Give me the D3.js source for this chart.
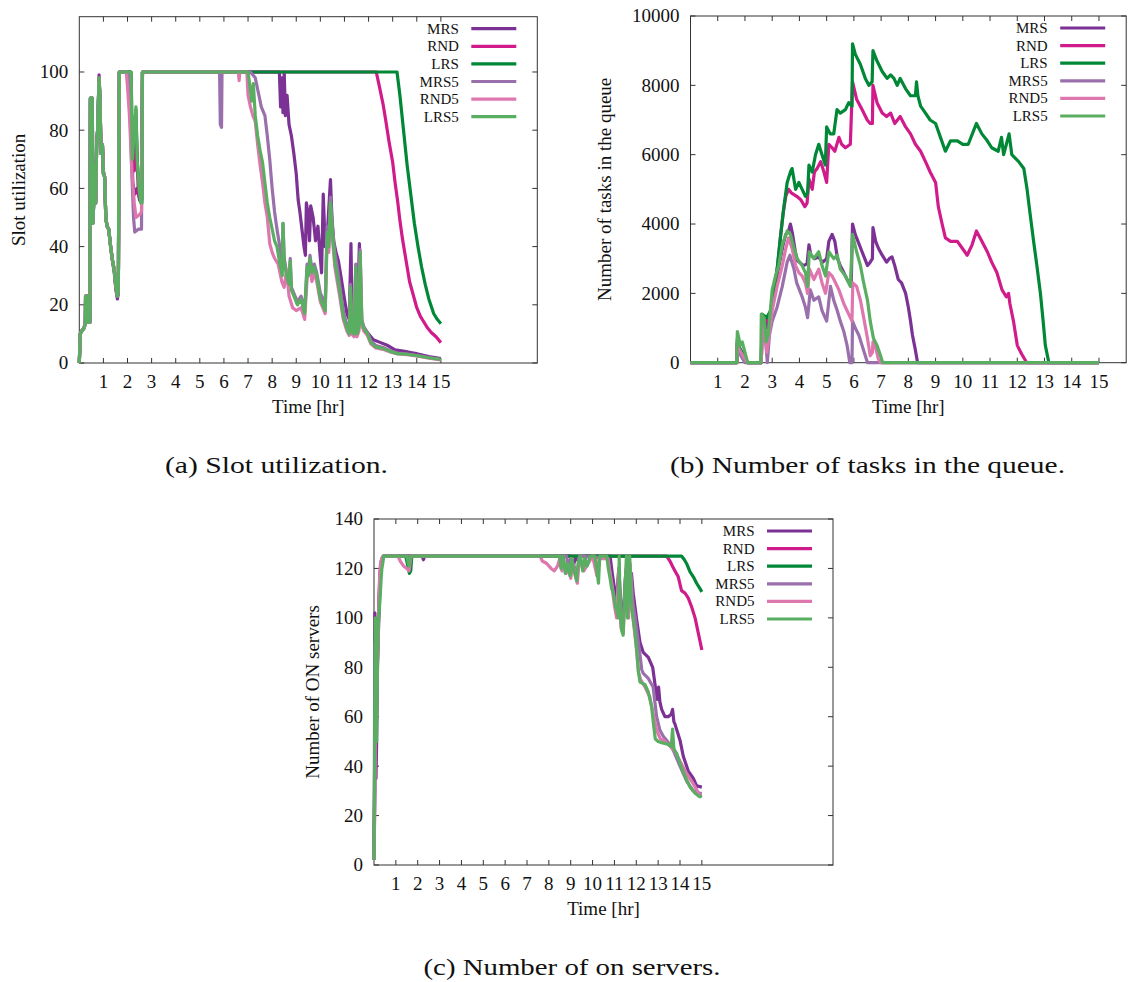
<!DOCTYPE html>
<html><head><meta charset="utf-8">
<script src="https://cdn.jsdelivr.net/npm/d3@7"></script>
<style>body{margin:0;background:#fff}</style>
</head><body>
<svg id="chart" width="1128" height="982"></svg>
<script>
// ---------- names, colours, ticks ----------
const seriesNames = ["MRS", "RND", "LRS", "MRS5", "RND5", "LRS5"];
const seriesColors = ["#7b3294", "#d01c8b", "#008837", "#9970ab", "#de77ae", "#5aae61"];
const xTickHours = [1,2,3,4,5,6,7,8,9,10,11,12,13,14,15];
const yTicksUtil = [0,20,40,60,80,100];
const yTicksQueue = [0,2000,4000,6000,8000,10000];
const yTicksServers = [0,20,40,60,80,100,120,140];

// ---------- (a) slot utilization [hour, %] ----------
const utilMRS = [[0,0],[0.04,10],[0.1,11],[0.2,12],[0.25,14],[0.26,23],[0.34,23],[0.36,14],[0.44,14],[0.46,90],[0.54,90],[0.56,49],[0.6,56],[0.64,69],[0.68,56],[0.72,76],[0.76,80],[0.82,99],[0.86,90],[0.9,73],[0.96,75],[1.0,66],[1.05,64],[1.1,50],[1.15,47],[1.22,46],[1.3,40],[1.38,35],[1.45,31],[1.52,25],[1.58,22],[1.62,24],[1.66,100],[2.1,100],[2.16,80],[2.22,62],[2.3,58],[2.4,60],[2.5,56],[2.58,55],[2.62,100],[8.3,100],[8.35,88],[8.4,98],[8.45,86],[8.5,100],[8.55,85],[8.62,92],[8.7,82],[8.8,78],[8.9,72],[9.0,65],[9.08,56],[9.15,52],[9.25,45],[9.32,40],[9.38,37],[9.42,55],[9.48,52],[9.55,42],[9.6,54],[9.7,50],[9.8,42],[9.9,47],[9.98,38],[10.05,31],[10.12,58],[10.2,40],[10.3,46],[10.42,63],[10.48,50],[10.55,42],[10.65,38],[10.75,35],[10.85,30],[11.0,22],[11.1,17],[11.2,15],[11.27,41],[11.32,15],[11.45,18],[11.55,20],[11.62,41],[11.68,15],[11.8,12],[12.0,10],[12.2,8],[12.5,7],[12.8,6],[13.1,4.5],[13.5,4],[13.8,3.5],[14.0,3.2],[14.5,2.2],[15,1.5]];
const utilRND = [[0,0],[0.04,10],[0.1,11],[0.2,12],[0.25,14],[0.26,23],[0.34,23],[0.36,14],[0.44,14],[0.46,91],[0.54,91],[0.56,48],[0.6,55],[0.64,68],[0.68,55],[0.72,75],[0.76,80],[0.82,98],[0.86,90],[0.9,72],[0.96,75],[1.0,65],[1.05,64],[1.1,50],[1.15,47],[1.22,46],[1.3,40],[1.38,35],[1.45,32],[1.52,26],[1.58,23],[1.62,25],[1.66,100],[2.12,100],[2.2,72],[2.28,66],[2.36,80],[2.45,58],[2.58,56],[2.62,100],[12.32,100],[12.45,95],[12.6,89],[12.7,84],[12.85,76],[13.0,69],[13.1,62],[13.2,56],[13.3,49],[13.4,43],[13.5,38],[13.6,33],[13.7,28],[13.8,25],[13.9,22],[14.0,19],[14.15,16],[14.3,14],[14.45,12],[14.6,10.5],[14.8,9],[15,7]];
const utilLRS = [[0,0],[0.04,10],[0.1,11],[0.2,12],[0.25,14],[0.26,23],[0.34,23],[0.36,14],[0.44,14],[0.46,91],[0.54,91],[0.56,48],[0.6,55],[0.64,68],[0.68,55],[0.72,75],[0.76,80],[0.82,98],[0.86,90],[0.9,72],[0.96,75],[1.0,65],[1.05,64],[1.1,50],[1.15,47],[1.22,46],[1.3,40],[1.38,35],[1.45,32],[1.52,26],[1.58,23],[1.62,25],[1.66,100],[2.15,100],[2.2,72],[2.28,80],[2.35,87],[2.4,70],[2.48,60],[2.55,56],[2.6,56],[2.62,100],[13.18,100],[13.3,92],[13.45,80],[13.6,68],[13.75,58],[13.9,48],[14.05,40],[14.2,33],[14.35,27],[14.5,22],[14.7,17],[14.85,15],[15,13.5]];
const utilMRS5 = [[0,0],[0.04,10],[0.1,11],[0.2,12],[0.25,14],[0.26,23],[0.34,23],[0.36,14],[0.44,14],[0.46,91],[0.54,91],[0.56,48],[0.6,55],[0.64,68],[0.68,55],[0.72,75],[0.76,80],[0.82,98],[0.86,90],[0.9,72],[0.96,75],[1.0,65],[1.05,64],[1.1,50],[1.15,47],[1.22,46],[1.3,40],[1.38,35],[1.45,32],[1.52,26],[1.58,23],[1.62,25],[1.66,100],[2.05,100],[2.1,88],[2.18,65],[2.25,50],[2.3,45],[2.45,46],[2.58,46],[2.62,100],[5.82,100],[5.85,82],[5.9,81],[5.92,100],[7.1,100],[7.3,98],[7.45,92],[7.55,88],[7.7,85],[7.8,78],[7.9,70],[8.0,60],[8.1,52],[8.2,46],[8.3,41],[8.42,34],[8.45,48],[8.5,36],[8.6,31],[8.7,28],[8.75,36],[8.8,26],[8.95,23],[9.05,21],[9.2,23],[9.35,18],[9.45,34],[9.5,31],[9.57,37],[9.65,32],[9.75,34],[9.85,31],[10.0,24],[10.1,22],[10.2,20],[10.28,47],[10.35,42],[10.42,57],[10.5,47],[10.6,38],[10.7,33],[10.8,27],[10.95,18],[11.1,13],[11.2,11],[11.25,27],[11.3,12],[11.4,11],[11.47,34],[11.52,11],[11.6,13],[11.65,39],[11.72,15],[11.8,12.5],[11.95,10.5],[12.1,7.5],[12.3,6],[12.6,5.3],[12.9,4.2],[13.2,3.4],[13.6,3.1],[14.0,2.6],[14.5,1.9],[15,1.3]];
const utilRND5 = [[0,0],[0.04,10],[0.1,11],[0.2,12],[0.25,14],[0.26,23],[0.34,23],[0.36,14],[0.44,14],[0.46,91],[0.54,91],[0.56,48],[0.6,55],[0.64,68],[0.68,55],[0.72,75],[0.76,80],[0.82,98],[0.86,90],[0.9,72],[0.96,75],[1.0,65],[1.05,64],[1.1,50],[1.15,47],[1.22,46],[1.3,40],[1.38,35],[1.45,32],[1.52,26],[1.58,23],[1.62,25],[1.66,100],[1.95,100],[2.0,95],[2.08,85],[2.18,66],[2.28,55],[2.35,50],[2.5,51],[2.58,52],[2.62,100],[6.6,100],[6.63,97],[6.66,100],[6.95,100],[7.0,92],[7.1,88],[7.2,85],[7.3,83],[7.4,75],[7.5,68],[7.6,62],[7.7,55],[7.8,50],[7.9,41],[8.0,38],[8.1,36],[8.25,34],[8.4,28],[8.5,26],[8.6,32],[8.7,23],[8.85,19],[9.0,18],[9.2,19],[9.35,15],[9.45,29],[9.57,33],[9.65,28],[9.75,31],[9.85,28],[10.0,21],[10.1,19],[10.2,17],[10.28,42],[10.35,38],[10.42,52],[10.5,43],[10.6,33],[10.7,28],[10.8,23],[10.95,15],[11.1,11],[11.2,9.5],[11.25,24],[11.3,10],[11.4,9],[11.47,31],[11.52,9],[11.6,11],[11.65,36],[11.72,13],[11.8,11],[11.95,9.5],[12.1,6.5],[12.3,5.2],[12.6,4.7],[12.9,3.8],[13.2,3.1],[13.6,2.9],[14.0,2.4],[14.5,1.7],[15,1.1]];
const utilLRS5 = [[0,0],[0.04,10],[0.1,11],[0.2,12],[0.25,14],[0.26,23],[0.34,23],[0.36,14],[0.44,14],[0.46,91],[0.54,91],[0.56,48],[0.6,55],[0.64,68],[0.68,55],[0.72,75],[0.76,80],[0.82,98],[0.86,90],[0.9,72],[0.96,75],[1.0,65],[1.05,64],[1.1,50],[1.15,47],[1.22,46],[1.3,40],[1.38,35],[1.45,32],[1.52,26],[1.58,23],[1.62,25],[1.66,100],[2.15,100],[2.2,70],[2.28,80],[2.35,88],[2.4,70],[2.48,60],[2.55,55],[2.6,55],[2.62,100],[7.0,100],[7.08,95],[7.15,90],[7.22,96],[7.3,85],[7.4,78],[7.5,73],[7.6,69],[7.7,62],[7.8,55],[7.9,50],[8.0,46],[8.1,42],[8.2,40],[8.3,35],[8.42,30],[8.45,48],[8.5,35],[8.6,30],[8.7,27],[8.75,35],[8.8,25],[8.95,22],[9.05,20],[9.2,22],[9.35,17],[9.45,33],[9.5,30],[9.57,36],[9.65,31],[9.75,33],[9.85,30],[10.0,22],[10.1,20],[10.2,18],[10.28,45],[10.35,40],[10.42,55],[10.5,45],[10.6,35],[10.7,30],[10.8,25],[10.95,16],[11.1,12],[11.2,10],[11.25,26],[11.3,11],[11.4,10],[11.47,33],[11.52,10],[11.6,12],[11.65,38],[11.72,14],[11.8,12],[11.95,10],[12.1,7],[12.3,5.5],[12.6,5],[12.9,4],[13.2,3.2],[13.6,3],[14.0,2.5],[14.5,1.8],[15,1.2]];

// ---------- (b) tasks in queue [hour, tasks] ----------
const queueMRS = [[0,0],[1.7,0],[1.72,600],[1.8,400],[1.9,300],[2.0,150],[2.1,0],[2.6,0],[2.63,1300],[2.72,1200],[2.8,1000],[2.9,1300],[3.0,1800],[3.1,2200],[3.2,2600],[3.3,3000],[3.4,3400],[3.5,3700],[3.6,3800],[3.67,4000],[3.75,3700],[3.85,3200],[3.92,2950],[4.0,2900],[4.15,2800],[4.28,2850],[4.35,3400],[4.42,3100],[4.55,3000],[4.7,3050],[4.85,2900],[5.0,3000],[5.08,3500],[5.2,3700],[5.3,3500],[5.4,3000],[5.5,2800],[5.63,2600],[5.75,2400],[5.9,2200],[5.95,4000],[6.05,3700],[6.15,3500],[6.3,3200],[6.4,3000],[6.5,2800],[6.6,2900],[6.68,3000],[6.7,3900],[6.8,3500],[6.9,3300],[7.04,3100],[7.2,2900],[7.3,3000],[7.4,3050],[7.5,2800],[7.63,2400],[7.75,2300],[7.9,2000],[8.0,1600],[8.08,1200],[8.15,800],[8.25,400],[8.34,0],[15,0]];
const queueRND = [[0,0],[1.7,0],[1.72,500],[1.85,300],[2.0,100],[2.1,0],[2.6,0],[2.63,1300],[2.75,1250],[2.85,1200],[3.0,1600],[3.1,2200],[3.2,2800],[3.3,3600],[3.4,4300],[3.5,4800],[3.6,5000],[3.7,4900],[3.8,4850],[3.9,4800],[4.05,4700],[4.2,4500],[4.28,4600],[4.35,5300],[4.47,5000],[4.55,5500],[4.65,5600],[4.78,5800],[4.9,5500],[5.0,5200],[5.08,6300],[5.2,6200],[5.3,6100],[5.45,6500],[5.55,6300],[5.69,6200],[5.87,6300],[5.95,8100],[6.1,7600],[6.3,7300],[6.49,7000],[6.6,6900],[6.68,6900],[6.7,8000],[6.85,7500],[7.04,7200],[7.2,7100],[7.35,7200],[7.5,6900],[7.7,7100],[7.9,6800],[8.08,6600],[8.26,6300],[8.45,6100],[8.63,5800],[8.8,5500],[9.0,5200],[9.1,4500],[9.24,4000],[9.36,3600],[9.55,3500],[9.8,3500],[9.98,3300],[10.16,3100],[10.34,3400],[10.5,3800],[10.7,3500],[10.9,3200],[11.06,2900],[11.25,2600],[11.44,2100],[11.6,1900],[11.68,2000],[11.73,1700],[11.86,1200],[12.0,500],[12.16,250],[12.35,0],[15,0]];
const queueLRS = [[0,0],[1.7,0],[1.72,700],[1.82,400],[1.95,200],[2.1,0],[2.6,0],[2.63,1400],[2.8,1300],[2.94,1500],[3.05,2000],[3.18,2700],[3.3,3600],[3.43,4500],[3.55,5200],[3.67,5500],[3.73,5600],[3.86,5000],[3.98,5200],[4.1,5000],[4.22,4800],[4.3,4900],[4.35,5700],[4.47,5500],[4.59,6000],[4.71,6300],[4.83,6000],[4.95,5700],[5.0,6800],[5.13,6600],[5.26,6600],[5.38,7300],[5.5,7200],[5.69,7300],[5.81,7500],[5.93,7400],[5.95,9200],[6.05,8900],[6.24,8600],[6.42,8200],[6.55,8000],[6.67,8100],[6.7,9000],[6.85,8700],[7.04,8400],[7.22,8200],[7.35,8300],[7.47,8200],[7.59,8000],[7.7,8200],[7.9,7900],[8.08,7700],[8.26,7700],[8.3,8100],[8.35,7700],[8.45,7400],[8.63,7200],[8.8,7000],[9.0,6900],[9.18,6500],[9.36,6100],[9.55,6400],[9.8,6400],[10.0,6300],[10.2,6300],[10.4,6700],[10.5,6900],[10.7,6600],[10.9,6400],[11.06,6200],[11.3,6100],[11.42,6500],[11.5,6000],[11.7,6600],[11.8,6000],[12.05,5800],[12.24,5600],[12.36,5000],[12.47,4300],[12.6,3500],[12.72,2800],[12.85,2000],[12.95,1200],[13.03,500],[13.16,0],[15,0]];
const queueMRS5 = [[0,0],[1.7,0],[1.72,400],[1.85,200],[2.0,0],[2.6,0],[2.63,1000],[2.75,800],[2.82,0],[2.9,800],[3.0,1200],[3.18,1600],[3.37,2200],[3.55,2900],[3.65,3100],[3.8,2700],[3.9,2300],[4.1,1900],[4.22,1600],[4.3,1300],[4.4,2100],[4.53,1800],[4.71,1900],[4.83,1500],[5.0,1200],[5.14,2200],[5.26,1800],[5.39,1500],[5.5,1200],[5.63,900],[5.75,500],[5.85,0],[5.93,0],[5.95,1200],[6.05,1000],[6.18,800],[6.3,500],[6.42,200],[6.5,0],[15,0]];
const queueRND5 = [[0,0],[1.7,0],[1.72,500],[1.85,300],[2.0,100],[2.1,0],[2.6,0],[2.63,1200],[2.72,900],[2.8,300],[2.9,900],[3.0,1500],[3.18,2200],[3.37,2800],[3.5,3300],[3.6,3600],[3.73,3300],[3.86,2800],[3.98,2600],[4.1,2500],[4.22,2300],[4.3,2000],[4.37,2700],[4.53,2400],[4.71,2700],[4.83,2300],[4.96,2000],[5.08,2600],[5.2,2500],[5.33,2300],[5.45,2100],[5.63,1700],[5.81,1400],[5.93,1200],[5.96,2300],[6.1,2200],[6.24,1800],[6.36,1300],[6.5,700],[6.6,200],[6.68,300],[6.7,600],[6.78,500],[6.9,100],[6.98,0],[15,0]];
const queueLRS5 = [[0,0],[1.7,0],[1.72,900],[1.78,700],[1.82,500],[1.9,600],[2.0,300],[2.1,0],[2.58,0],[2.6,1400],[2.7,1300],[2.78,600],[2.85,800],[3.0,2100],[3.12,2500],[3.24,2800],[3.37,3400],[3.55,3800],[3.67,3700],[3.8,3300],[3.92,3000],[4.1,2800],[4.22,2600],[4.3,2200],[4.36,3200],[4.53,3000],[4.71,3200],[4.83,2800],[4.96,2500],[5.08,3200],[5.26,3000],[5.39,3100],[5.5,2700],[5.69,2500],[5.87,2200],[5.95,3700],[6.1,3200],[6.24,2800],[6.36,2300],[6.5,1800],[6.6,1200],[6.72,700],[6.85,500],[6.98,200],[7.06,0],[15,0]];

// ---------- (c) ON servers [hour, servers] ----------
const onMRS = [[0,2],[0.02,40],[0.04,102],[0.06,60],[0.09,35],[0.12,50],[0.16,80],[0.22,100],[0.28,118],[0.34,123],[0.42,125],[2.2,125],[2.26,123.5],[2.32,125],[9.0,125],[9.1,120],[9.2,124],[9.6,122],[9.7,125],[10.8,125],[10.9,118],[11.0,112],[11.1,108],[11.2,120],[11.3,104],[11.4,100],[11.5,116],[11.6,124],[11.7,112],[11.78,118],[11.86,110],[12.02,99],[12.17,90],[12.32,86],[12.55,84],[12.75,80],[12.85,73.5],[12.96,67],[13.02,72],[13.08,66],[13.16,63],[13.31,60],[13.46,60],[13.6,61],[13.66,63],[13.72,58],[13.77,57],[14.0,50.5],[14.15,44],[14.38,38],[14.61,35],[14.76,32],[14.9,31.7],[15,31.5]];
const onRND = [[0,2],[0.03,25],[0.06,70],[0.1,55],[0.15,80],[0.2,100],[0.26,115],[0.32,122],[0.4,124],[0.46,125],[13.39,125],[13.54,123],[13.65,121],[13.77,119],[13.92,116.6],[14.07,111],[14.23,110],[14.38,108],[14.53,104.5],[14.69,100],[14.84,93.7],[15,87]];
const onLRS = [[0,2],[0.03,30],[0.06,95],[0.1,70],[0.15,85],[0.2,98],[0.26,110],[0.32,120],[0.4,124],[0.44,125],[1.45,125],[1.55,121],[1.62,118],[1.68,119],[1.73,125],[14.07,125],[14.2,123.5],[14.3,122],[14.46,118.6],[14.61,116.6],[14.76,114],[14.9,112],[15,110.5]];
const onMRS5 = [[0,2],[0.03,35],[0.05,90],[0.08,60],[0.12,70],[0.18,95],[0.24,110],[0.3,122],[0.36,124],[0.44,125],[8.8,125],[8.9,121],[9.0,124],[9.3,118],[9.4,125],[10.7,124],[10.8,118],[10.9,113],[11.0,107],[11.1,103],[11.2,118],[11.3,98],[11.4,97],[11.5,115],[11.58,123],[11.65,104],[11.75,118],[11.85,106],[11.95,100],[12.05,93],[12.17,85],[12.25,79],[12.32,77.5],[12.55,75.5],[12.77,72],[12.85,66],[12.93,60],[13.08,54.6],[13.24,52],[13.39,50.5],[13.69,46.5],[14.0,40],[14.3,34],[14.61,30],[14.9,29],[15,29]];
const onRND5 = [[0,2],[0.03,20],[0.06,50],[0.1,60],[0.14,75],[0.2,95],[0.25,115],[0.3,122],[0.36,124],[0.44,125],[1.1,125],[1.2,123],[1.35,121],[1.5,120],[1.6,119],[1.7,125],[7.6,125],[7.7,123],[7.9,122],[8.1,120],[8.25,119],[8.4,121],[8.5,124],[8.6,119],[8.7,123],[8.8,118],[8.9,121],[9.0,116],[9.1,122],[9.3,114],[9.4,124],[9.6,119],[9.8,122],[10.0,125],[10.2,117],[10.3,124],[10.7,124],[10.8,118],[10.9,112],[11.0,105],[11.1,100],[11.2,120],[11.3,96],[11.4,94],[11.5,112],[11.58,124],[11.65,100],[11.72,122],[11.8,104],[11.9,96],[12.0,88],[12.1,78],[12.2,75],[12.4,72],[12.62,68],[12.8,60],[12.93,54.6],[13.1,51],[13.24,50.5],[13.5,48.5],[13.77,46],[14.0,42],[14.3,37],[14.6,33],[14.9,28.3],[15,28.5]];
const onLRS5 = [[0,2],[0.02,30],[0.04,60],[0.06,100],[0.09,80],[0.12,50],[0.16,85],[0.2,98],[0.24,103],[0.28,108],[0.32,115],[0.36,120],[0.4,122],[0.44,125],[1.5,125],[1.6,121],[1.68,125],[8.5,125],[8.55,120],[8.65,125],[8.75,118],[8.85,122],[8.97,117],[9.05,124],[9.15,119],[9.27,115],[9.35,123],[9.45,125],[9.55,119],[9.65,124],[9.75,121],[9.9,125],[10.1,125],[10.19,120],[10.27,114],[10.33,125],[10.65,125],[10.72,120],[10.8,116],[10.87,112],[10.95,110],[11.02,106],[11.1,103],[11.18,100],[11.22,125],[11.26,104],[11.33,95],[11.4,93],[11.47,110],[11.55,125],[11.6,100],[11.7,125],[11.78,105],[11.85,100],[11.93,95],[12.02,87],[12.1,78],[12.17,74],[12.4,73],[12.55,70],[12.7,64],[12.8,56],[12.87,51],[13.0,50],[13.16,49.5],[13.4,49],[13.6,48],[13.66,55],[13.72,47],[13.85,45],[14.0,41],[14.23,36],[14.46,31.5],[14.69,29],[14.9,27.6],[15,28]];

// ---------- drawing ----------
const svg = d3.select("#chart");
svg.append("rect").attr("width", 1128).attr("height", 982).attr("fill", "#fff");
const FONT = "Liberation Serif, Times New Roman, serif";

function drawPanel(cfg) {
  const x = d3.scaleLinear().domain(cfg.xDomain).range([cfg.left, cfg.right]);
  const y = d3.scaleLinear().domain(cfg.yDomain).range([cfg.bottom, cfg.top]);
  const g = svg.append("g");
  const axisColor = "#333";
  const tl = 5;

  g.append("rect").attr("x", cfg.left).attr("y", cfg.top)
    .attr("width", cfg.right - cfg.left).attr("height", cfg.bottom - cfg.top)
    .attr("fill", "none").attr("stroke", axisColor).attr("stroke-width", 1);

  xTickHours.forEach(h => {
    const px = x(h);
    g.append("line").attr("x1", px).attr("x2", px).attr("y1", cfg.bottom).attr("y2", cfg.bottom - tl).attr("stroke", axisColor);
    g.append("line").attr("x1", px).attr("x2", px).attr("y1", cfg.top).attr("y2", cfg.top + tl).attr("stroke", axisColor);
    g.append("text").attr("x", px).attr("y", cfg.bottom + 25).attr("text-anchor", "middle")
      .attr("font-family", FONT).attr("font-size", 19).attr("fill", "#111").text(h);
  });
  cfg.yTicks.forEach(v => {
    const py = y(v);
    g.append("line").attr("x1", cfg.left).attr("x2", cfg.left + tl).attr("y1", py).attr("y2", py).attr("stroke", axisColor);
    g.append("line").attr("x1", cfg.right).attr("x2", cfg.right - tl).attr("y1", py).attr("y2", py).attr("stroke", axisColor);
    g.append("text").attr("x", cfg.left - 11).attr("y", py).attr("dy", "0.34em").attr("text-anchor", "end")
      .attr("font-family", FONT).attr("font-size", 19).attr("fill", "#111").text(v);
  });

  const line = d3.line().x(d => x(d[0])).y(d => y(d[1]));
  cfg.series.forEach((s, i) => {
    g.append("path").attr("d", line(s)).attr("fill", "none")
      .attr("stroke", seriesColors[i]).attr("stroke-width", 3.2)
      .attr("stroke-linejoin", "round").attr("stroke-linecap", "butt");
  });

  g.append("text").attr("x", (cfg.left + cfg.right) / 2).attr("y", cfg.bottom + 50)
    .attr("text-anchor", "middle").attr("font-family", FONT).attr("font-size", 19).attr("fill", "#111")
    .text("Time [hr]");
  g.append("text").attr("transform", `translate(${cfg.ylabX},${(cfg.top + cfg.bottom) / 2}) rotate(-90)`)
    .attr("text-anchor", "middle").attr("font-family", FONT).attr("font-size", 19).attr("fill", "#111")
    .text(cfg.ylabel);

  seriesNames.forEach((name, i) => {
    const ry = cfg.top + 12 + i * 17.6;
    g.append("text").attr("x", cfg.right - 78.5).attr("y", ry + 5).attr("text-anchor", "end")
      .attr("font-family", FONT).attr("font-size", 15).attr("fill", "#111").text(name);
    g.append("line").attr("x1", cfg.right - 66).attr("x2", cfg.right - 21)
      .attr("y1", ry).attr("y2", ry).attr("stroke", seriesColors[i]).attr("stroke-width", 3.2);
  });

  svg.append("text").attr("x", cfg.capX).attr("y", cfg.capY).attr("text-anchor", "middle")
    .attr("font-family", FONT).attr("font-size", 24).attr("fill", "#111")
    .attr("textLength", cfg.capW).attr("lengthAdjust", "spacingAndGlyphs")
    .text(cfg.caption);
}

drawPanel({
  left: 79.3, right: 537.3, top: 16.7, bottom: 363,
  xDomain: [0, 19], yDomain: [0, 119], yTicks: yTicksUtil,
  series: [utilMRS, utilRND, utilLRS, utilMRS5, utilRND5, utilLRS5],
  ylabel: "Slot utilization", ylabX: 25,
  caption: "(a) Slot utilization.", capX: 276.5, capY: 473, capW: 223
});
drawPanel({
  left: 690.5, right: 1126.2, top: 16, bottom: 362.7,
  xDomain: [0, 16], yDomain: [0, 10000], yTicks: yTicksQueue,
  series: [queueMRS, queueRND, queueLRS, queueMRS5, queueRND5, queueLRS5],
  ylabel: "Number of tasks in the queue", ylabX: 611,
  caption: "(b) Number of tasks in the queue.", capX: 867.5, capY: 473, capW: 395
});
drawPanel({
  left: 374, right: 833, top: 519, bottom: 865,
  xDomain: [0, 21], yDomain: [0, 140], yTicks: yTicksServers,
  series: [onMRS, onRND, onLRS, onMRS5, onRND5, onLRS5],
  ylabel: "Number of ON servers", ylabX: 319,
  caption: "(c) Number of on servers.", capX: 572, capY: 975, capW: 297
});
</script>
</body></html>
